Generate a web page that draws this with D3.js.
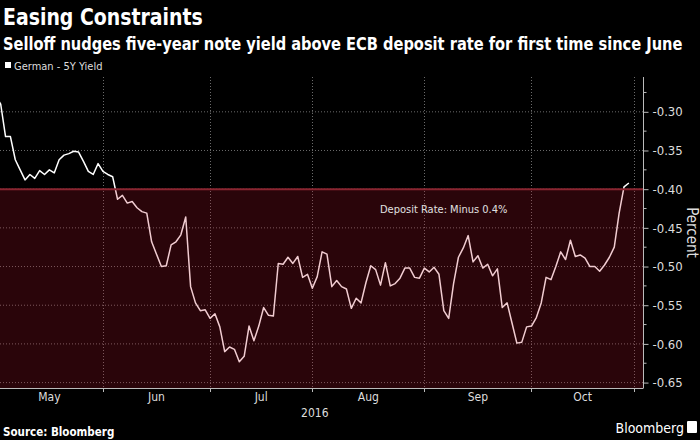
<!DOCTYPE html>
<html>
<head>
<meta charset="utf-8">
<script src="https://cdn.jsdelivr.net/npm/d3@7"></script>
<style>
  html, body { margin: 0; padding: 0; background: #000; }
  svg { display: block; }
  text { font-family: "DejaVu Sans Condensed", "DejaVu Sans", sans-serif; }
</style>
</head>
<body>
<svg id="chart" width="700" height="440"></svg>
<script>
// ---- data ----
const title = "Easing Constraints";
const subtitle = "Selloff nudges five-year note yield above ECB deposit rate for first time since June";
const seriesName = "German - 5Y Yield";
// German 5Y yield, one value per trading day starting early May 2016
const values = [
  -0.280, -0.290, -0.332, -0.332, -0.362, -0.375, -0.388, -0.381, -0.386, -0.376,
  -0.381, -0.375, -0.379, -0.362, -0.356, -0.354, -0.351, -0.352, -0.364, -0.377,
  -0.381, -0.367, -0.377, -0.381, -0.384, -0.413, -0.408, -0.418, -0.416, -0.424,
  -0.429, -0.431, -0.468, -0.484, -0.500, -0.499, -0.472, -0.468, -0.459, -0.436,
  -0.526, -0.547, -0.557, -0.556, -0.567, -0.561, -0.578, -0.610, -0.604, -0.607,
  -0.623, -0.616, -0.577, -0.596, -0.577, -0.553, -0.563, -0.564, -0.496, -0.497,
  -0.488, -0.496, -0.487, -0.514, -0.510, -0.528, -0.513, -0.481, -0.484, -0.526,
  -0.518, -0.526, -0.529, -0.554, -0.541, -0.547, -0.521, -0.499, -0.504, -0.524,
  -0.495, -0.525, -0.522, -0.515, -0.502, -0.502, -0.514, -0.515, -0.502, -0.507,
  -0.501, -0.510, -0.557, -0.567, -0.522, -0.488, -0.476, -0.460, -0.494, -0.486,
  -0.502, -0.497, -0.512, -0.503, -0.553, -0.547, -0.573, -0.599, -0.598, -0.578,
  -0.577, -0.566, -0.547, -0.514, -0.517, -0.500, -0.481, -0.491, -0.466, -0.487,
  -0.485, -0.489, -0.500, -0.500, -0.506, -0.498, -0.488, -0.475, -0.431, -0.397,
  -0.392
];
const monthNames = ["May", "Jun", "Jul", "Aug", "Sep", "Oct"];
// trading-day index where each month starts (last entry = Nov 1)
const monthStarts = [0, 22, 44, 65, 88, 110, 131];
const yearLabel = "2016";
const yTicks = [-0.30, -0.35, -0.40, -0.45, -0.50, -0.55, -0.60, -0.65];
const yMinorTicks = [-0.275, -0.325, -0.375, -0.425, -0.475, -0.525, -0.575, -0.625];
const depositRate = -0.40;
const depositLabel = "Deposit Rate: Minus 0.4%";
const yAxisTitle = "Percent";
const sourceText = "Source: Bloomberg";
const brandText = "Bloomberg";

// ---- layout ----
const plot = { left: 0, right: 643, top: 77, bottom: 388 };
const svg = d3.select("#chart");
svg.append("rect").attr("width", 700).attr("height", 440).attr("fill", "#000");

const x = d3.scaleLinear().domain([0.86, 132.9]).range([plot.left, plot.right]);
const y = d3.scaleLinear().domain([-0.657, -0.255]).range([plot.bottom, plot.top]);

// fit a text horizontally to a target width using a scale transform
function fitText(sel, x0, y0, targetWidth) {
  const w = sel.node().getComputedTextLength();
  const s = Math.min(1, targetWidth / w);
  sel.attr("transform", `translate(${x0},${y0}) scale(${s},1)`);
}

// title
const t1 = svg.append("text").attr("x", 0).attr("y", 0).text(title)
  .attr("fill", "#fff").attr("font-size", 23).attr("font-weight", "bold");
fitText(t1, 3, 25, 200);
const t2 = svg.append("text").attr("x", 0).attr("y", 0).text(subtitle)
  .attr("fill", "#fff").attr("font-size", 17.5).attr("font-weight", "bold");
fitText(t2, 3, 50, 680);

// legend
svg.append("rect").attr("x", 5).attr("y", 62).attr("width", 6).attr("height", 6).attr("fill", "#fff");
svg.append("text").attr("x", 14).attr("y", 70).text(seriesName)
  .attr("fill", "#ddd").attr("font-size", 11);

// clip
svg.append("clipPath").attr("id", "clip").append("rect")
  .attr("x", plot.left).attr("y", plot.top)
  .attr("width", plot.right - plot.left).attr("height", plot.bottom - plot.top);

// gridlines
const grid = svg.append("g");
grid.selectAll("line.h").data(yTicks).join("line")
  .attr("x1", plot.left).attr("x2", plot.right)
  .attr("y1", d => y(d)).attr("y2", d => y(d))
  .attr("stroke", "#6a6a6a").attr("stroke-width", 1).attr("stroke-dasharray", "1,2");
grid.selectAll("line.v").data(monthStarts.slice(1)).join("line")
  .attr("x1", d => Math.round(x(d)) + 0.5).attr("x2", d => Math.round(x(d)) + 0.5)
  .attr("y1", plot.top).attr("y2", plot.bottom)
  .attr("stroke", "#6a6a6a").attr("stroke-width", 1).attr("stroke-dasharray", "1,2");

// line
const line = d3.line().x((d, i) => x(i)).y(d => y(d));
svg.append("path").datum(values)
  .attr("clip-path", "url(#clip)")
  .attr("d", line).attr("fill", "none")
  .attr("stroke", "#fff").attr("stroke-width", 1.5).attr("stroke-linejoin", "round");

// deposit overlay
svg.append("rect")
  .attr("x", plot.left).attr("y", y(depositRate))
  .attr("width", plot.right - plot.left).attr("height", plot.bottom - y(depositRate))
  .attr("fill", "rgb(190,25,45)").attr("fill-opacity", 0.22);
svg.append("line")
  .attr("x1", plot.left).attr("x2", plot.right)
  .attr("y1", y(depositRate)).attr("y2", y(depositRate))
  .attr("stroke", "#8a2530").attr("stroke-width", 2);
svg.append("text").attr("x", 380).attr("y", 213).text(depositLabel)
  .attr("fill", "#e0e0e0").attr("font-size", 11);

// right axis
const yAxis = d3.axisRight(y).tickValues(yTicks).tickSize(5).tickPadding(4)
  .tickFormat(d => d.toFixed(2));
const ya = svg.append("g").attr("transform", `translate(${plot.right + 0.5},0)`).call(yAxis);
ya.select(".domain").attr("stroke", "#bbb").attr("d", `M0,${plot.top}V${plot.bottom}`);
ya.selectAll(".tick line").attr("stroke", "#bbb");
ya.selectAll(".tick text").attr("fill", "#ddd").attr("font-size", 13)
  .attr("font-family", "'DejaVu Sans Condensed', 'DejaVu Sans', sans-serif");
ya.selectAll("line.minor").data(yMinorTicks).join("line").attr("class", "minor")
  .attr("x1", 0).attr("x2", 3).attr("y1", d => y(d)).attr("y2", d => y(d))
  .attr("stroke", "#bbb");

svg.append("text").attr("transform", `translate(687,${(plot.top + plot.bottom) / 2}) rotate(90)`)
  .attr("text-anchor", "middle").text(yAxisTitle)
  .attr("fill", "#ddd").attr("font-size", 15);

// bottom axis
svg.append("line").attr("x1", plot.left).attr("x2", plot.right + 0.5)
  .attr("y1", plot.bottom + 0.5).attr("y2", plot.bottom + 0.5).attr("stroke", "#bbb");
svg.selectAll("line.xt").data(monthStarts.slice(1)).join("line").attr("class", "xt")
  .attr("x1", d => Math.round(x(d)) + 0.5).attr("x2", d => Math.round(x(d)) + 0.5)
  .attr("y1", plot.bottom).attr("y2", plot.bottom + 4).attr("stroke", "#bbb");
svg.selectAll("text.month").data(monthNames).join("text").attr("class", "month")
  .attr("x", (d, i) => x((monthStarts[i] + monthStarts[i + 1]) / 2))
  .attr("y", plot.bottom + 13).attr("text-anchor", "middle").text(d => d)
  .attr("fill", "#ddd").attr("font-size", 12);
svg.append("text").attr("x", x((monthStarts[0] + monthStarts[monthStarts.length - 1]) / 2))
  .attr("y", plot.bottom + 29).attr("text-anchor", "middle").text(yearLabel)
  .attr("fill", "#ddd").attr("font-size", 12);

// footer
svg.append("text").attr("x", 3).attr("y", 436).text(sourceText)
  .attr("fill", "#fff").attr("font-size", 11.5).attr("font-weight", "bold");
svg.append("text").attr("x", 684).attr("y", 433).attr("text-anchor", "end").text(brandText)
  .attr("fill", "#fff").attr("font-size", 14);
svg.append("rect").attr("x", 687).attr("y", 421).attr("width", 10).attr("height", 12)
  .attr("fill", "#fff").attr("rx", 1);
</script>
</body>
</html>
